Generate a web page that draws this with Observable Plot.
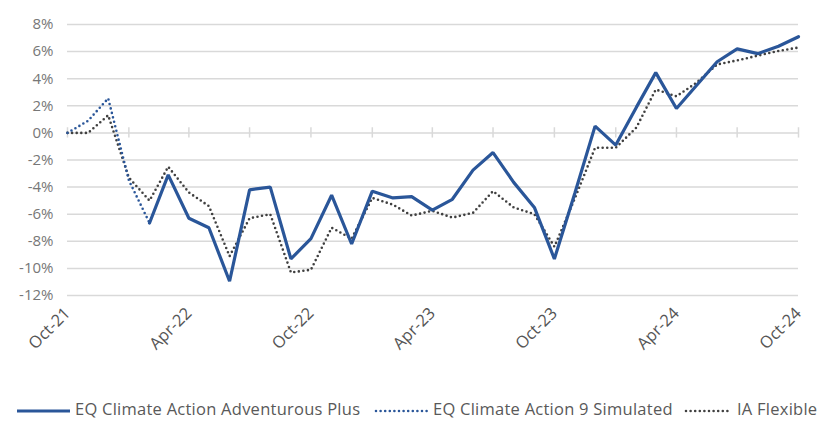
<!DOCTYPE html>
<html>
<head>
<meta charset="utf-8">
<script src="https://cdn.jsdelivr.net/npm/d3@7"></script>
<script src="https://cdn.jsdelivr.net/npm/@observablehq/plot@0.6"></script>
<style>
  html, body { margin: 0; padding: 0; background: #fff; }
  body { width: 827px; height: 421px; position: relative; overflow: hidden; font-family: "Open Sans", Lato, sans-serif; }
  #chart svg { display: block; }
  #legend { position: absolute; left: 0; top: 400px; width: 827px; height: 18px; font-size: 16.5px; line-height: 18px; color: #595959; white-space: nowrap; }
  .sample { position: absolute; top: 4px; }
  .label { position: absolute; top: 0; letter-spacing: 0.25px; }
</style>
</head>
<body>
<div id="chart"></div>
<div id="legend"></div>
<script>
// Month categories Oct-21 .. Oct-24
const start = new Date(Date.UTC(2021, 9, 1));
const months = d3.utcMonth.range(start, new Date(Date.UTC(2024, 10, 1)));

// Series values (%)
const iaFlexible = [0, 0, 1.3, -3.3, -5.0, -2.5, -4.4, -5.4, -9.1, -6.3, -6.0, -10.3, -10.1, -7.0, -7.8, -4.8, -5.3, -6.1, -5.75, -6.25, -5.9, -4.3, -5.5, -6.0, -8.4, -4.8, -1.1, -1.1, 0.4, 3.2, 2.7, 3.7, 5.05, 5.35, 5.7, 6.05, 6.3];
const simulatedStart = 0; // month index where simulated series starts
const simulated = [0, 0.9, 2.55, -3.5, -6.65];
const adventurousStart = 4; // month index where the fund series starts
const adventurous = [-6.65, -3.1, -6.3, -7.0, -10.95, -4.2, -4.0, -9.3, -7.8, -4.6, -8.2, -4.3, -4.8, -4.7, -5.7, -4.9, -2.75, -1.45, -3.65, -5.5, -9.3, -4.4, 0.5, -0.9, 1.9, 4.45, 1.8, 3.5, 5.25, 6.2, 5.85, 6.4, 7.1];

const seriesNames = ["EQ Climate Action Adventurous Plus", "EQ Climate Action 9 Simulated", "IA Flexible"];
const yTicks = [-12, -10, -8, -6, -4, -2, 0, 2, 4, 6, 8];
const xLabelTicks = months.filter((d, i) => i % 6 === 0);
const xMinorTicks = months.filter((d, i) => i % 3 === 0);

const iaData = iaFlexible.map((v, i) => ({date: months[i], value: v}));
const simData = simulated.map((v, i) => ({date: months[simulatedStart + i], value: v}));
const advData = adventurous.map((v, i) => ({date: months[adventurousStart + i], value: v}));

const blue = "#2a5699";
const dark = "#404040";
const grid = "#d9d9d9";

const chart = Plot.plot({
  width: 827,
  height: 360,
  marginLeft: 67,
  marginRight: 29,
  marginTop: 24,
  marginBottom: 65,
  style: {fontFamily: "'Open Sans', Lato, sans-serif", fontSize: "15px", color: "#6b6b6b", background: "#fff"},
  x: {type: "utc", domain: [months[0], months[months.length - 1]]},
  y: {domain: [-12, 8]},
  marks: [
    Plot.gridY(yTicks, {stroke: grid, strokeOpacity: 1, strokeWidth: 1.5}),
    Plot.ruleX(xMinorTicks, {y1: -0.38, y2: 0.38, stroke: grid, strokeWidth: 1.5}),
    Plot.axisY(yTicks, {tickFormat: d => d + "%", tickSize: 0, tickPadding: 14, fontSize: 15, label: null, fill: "#777777"}),
    Plot.axisX(xLabelTicks, {tickFormat: d3.utcFormat("%b-%y"), tickRotate: -45, tickSize: 0, tickPadding: 15, fontSize: 16.5, label: null, fill: "#555555"}),
    Plot.line(iaData, {x: "date", y: "value", stroke: dark, strokeWidth: 2.6, strokeDasharray: "0 4.6", strokeLinecap: "round"}),
    Plot.line(simData, {x: "date", y: "value", stroke: blue, strokeWidth: 2.6, strokeDasharray: "0 4.6", strokeLinecap: "round"}),
    Plot.line(advData, {x: "date", y: "value", stroke: blue, strokeWidth: 3.2, strokeLinejoin: "miter"})
  ]
});
document.getElementById("chart").appendChild(chart);

// Legend
const legend = d3.select("#legend");
const styles = [
  {stroke: blue, dash: null, width: 3, left: 17, w: 53, text: 75},
  {stroke: blue, dash: "0 4.6", width: 2.6, left: 374, w: 55, text: 433},
  {stroke: dark, dash: "0 4.6", width: 2.6, left: 684, w: 48, text: 737}
];
seriesNames.forEach((name, i) => {
  const st = styles[i];
  const s = legend.append("svg").attr("class", "sample").style("left", st.left + "px").attr("width", st.w).attr("height", 12);
  s.append("line").attr("x1", st.dash ? 2 : 0).attr("x2", st.dash ? st.w - 2 : st.w).attr("y1", 7).attr("y2", 7)
    .attr("stroke", st.stroke).attr("stroke-width", st.width)
    .attr("stroke-dasharray", st.dash).attr("stroke-linecap", st.dash ? "round" : "butt");
  legend.append("span").attr("class", "label").style("left", st.text + "px").text(name);
});
</script>
</body>
</html>
